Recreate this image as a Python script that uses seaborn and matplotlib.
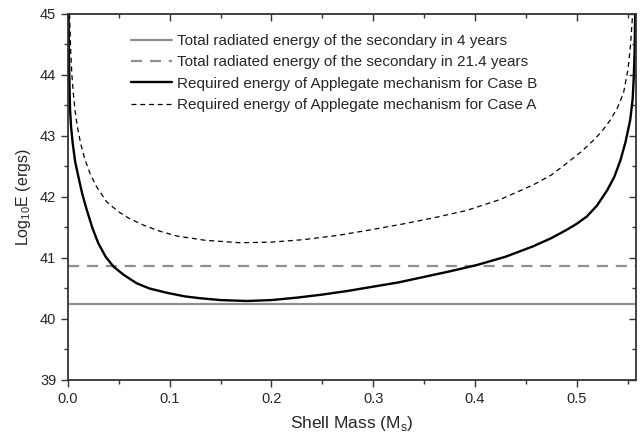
import numpy as np
import pandas as pd
import matplotlib
matplotlib.use("Agg")
import matplotlib.pyplot as plt
import seaborn as sns

# ---- data ----
case_b_mass = [0.0005, 0.0008, 0.001, 0.0015, 0.002, 0.003, 0.0046, 0.007, 0.0102, 0.014,
               0.0184, 0.024, 0.0298, 0.037, 0.0446, 0.055, 0.0675, 0.08, 0.097, 0.115,
               0.13, 0.15, 0.176, 0.2, 0.225, 0.25, 0.275, 0.3, 0.325, 0.35, 0.375,
               0.402, 0.43, 0.457, 0.475, 0.49, 0.5, 0.51, 0.52, 0.53, 0.537, 0.543,
               0.548, 0.5526, 0.555, 0.556, 0.557, 0.5575]
case_b_logE = [45.0, 44.6, 44.25, 43.8, 43.43, 43.15, 42.88, 42.58, 42.33, 42.05,
               41.79, 41.49, 41.24, 41.02, 40.86, 40.72, 40.585, 40.50, 40.43, 40.37,
               40.34, 40.31, 40.295, 40.31, 40.35, 40.40, 40.46, 40.53, 40.60, 40.69, 40.78,
               40.885, 41.02, 41.19, 41.325, 41.46, 41.56, 41.68, 41.86, 42.11, 42.33, 42.6,
               42.9, 43.26, 43.6, 43.92, 44.4, 45.0]

case_a_mass = [0.0015, 0.0026, 0.0038, 0.0052, 0.007, 0.0092, 0.0125, 0.0167, 0.022,
               0.028, 0.038, 0.0495, 0.06, 0.074, 0.09, 0.107, 0.135, 0.169, 0.2,
               0.231, 0.265, 0.297, 0.33, 0.36, 0.392, 0.425, 0.4575, 0.475, 0.49,
               0.505, 0.5165, 0.525, 0.533, 0.54, 0.546, 0.5505, 0.553, 0.555]
case_a_logE = [45.0, 44.41, 44.0, 43.70, 43.40, 43.15, 42.87, 42.61, 42.37,
               42.17, 41.92, 41.76, 41.65, 41.54, 41.44, 41.36, 41.29, 41.25, 41.26,
               41.30, 41.37, 41.46, 41.56, 41.66, 41.78, 41.96, 42.2, 42.36, 42.55,
               42.75, 42.93, 43.08, 43.26, 43.46, 43.70, 44.1, 44.5, 45.0]

radiated_4yr = 40.25
radiated_21yr = 40.87

labels = ["Total radiated energy of the secondary in 4 years",
          "Total radiated energy of the secondary in 21.4 years",
          "Required energy of Applegate mechanism for Case B",
          "Required energy of Applegate mechanism for Case A"]

x_range = (0.0, 0.558)
y_range = (39, 45)
x_major = [0.0, 0.1, 0.2, 0.3, 0.4, 0.5]
x_minor = [0.05, 0.15, 0.25, 0.35, 0.45, 0.55]
y_major = [39, 40, 41, 42, 43, 44, 45]
y_minor = [39.5, 40.5, 41.5, 42.5, 43.5, 44.5]

sns.set_style("white")
plt.rcParams['font.family'] = ['Liberation Sans', 'DejaVu Sans']

fig = plt.figure(figsize=(6.43, 4.40), dpi=100)
ax = fig.add_axes([0.1058, 0.1364, 0.8828, 0.8318])

gray = "#8f8f8f"
ax.axhline(radiated_4yr, color=gray, lw=1.6, label=labels[0])
ax.axhline(radiated_21yr, color=gray, lw=1.6, ls=(0, (5, 3.5)), label=labels[1])

df_b = pd.DataFrame({"m": case_b_mass, "E": case_b_logE})
df_a = pd.DataFrame({"m": case_a_mass, "E": case_a_logE})
sns.lineplot(data=df_b, x="m", y="E", ax=ax, color="black", lw=1.7, label=labels[2],
             sort=False, estimator=None)
sns.lineplot(data=df_a, x="m", y="E", ax=ax, color="black", lw=0.9, ls=(0, (4, 3)),
             label=labels[3], sort=False, estimator=None)

ax.set_xlim(*x_range)
ax.set_ylim(*y_range)
ax.set_xticks(x_major)
ax.set_xticks(x_minor, minor=True)
ax.set_yticks(y_major)
ax.set_yticks(y_minor, minor=True)
ax.set_xticklabels([f"{v:.1f}" for v in x_major])
ax.set_yticklabels([f"{v}" for v in y_major])

spine_c = "#333333"
for s in ax.spines.values():
    s.set_visible(True)
    s.set_color(spine_c)
    s.set_linewidth(1.3)

ax.tick_params(axis="both", which="major", direction="out", length=5, width=1.0,
               color=spine_c, labelsize=10.5, pad=3.5, bottom=True, left=True)
ax.tick_params(axis="both", which="minor", direction="out", length=3, width=1.0,
               color=spine_c, bottom=True, left=True)

# mirrored ticks pointing inward on top/right
secx = ax.secondary_xaxis("top")
secx.set_xticks(x_major)
secx.set_xticks(x_minor, minor=True)
secx.tick_params(which="major", direction="in", length=5, width=1.0, color=spine_c, labeltop=False)
secx.tick_params(which="minor", direction="in", length=3, width=1.0, color=spine_c)
secx.spines["top"].set_visible(False)
secy = ax.secondary_yaxis("right")
secy.set_yticks(y_major)
secy.set_yticks(y_minor, minor=True)
secy.tick_params(which="major", direction="in", length=5, width=1.0, color=spine_c, labelright=False)
secy.tick_params(which="minor", direction="in", length=3, width=1.0, color=spine_c)
secy.spines["right"].set_visible(False)

ax.set_xlabel("Shell Mass (M$_\\mathregular{s}$)", fontsize=12.5, labelpad=6)
ax.set_ylabel("Log$_\\mathregular{10}$E (ergs)", fontsize=11.5, labelpad=5)

leg = ax.legend(loc="upper left", bbox_to_anchor=(0.0997, 0.962), frameon=False,
                fontsize=11, handlelength=2.7, handletextpad=0.3, labelspacing=0.48,
                borderaxespad=0.0)

fig.savefig("out.png", dpi=100)
